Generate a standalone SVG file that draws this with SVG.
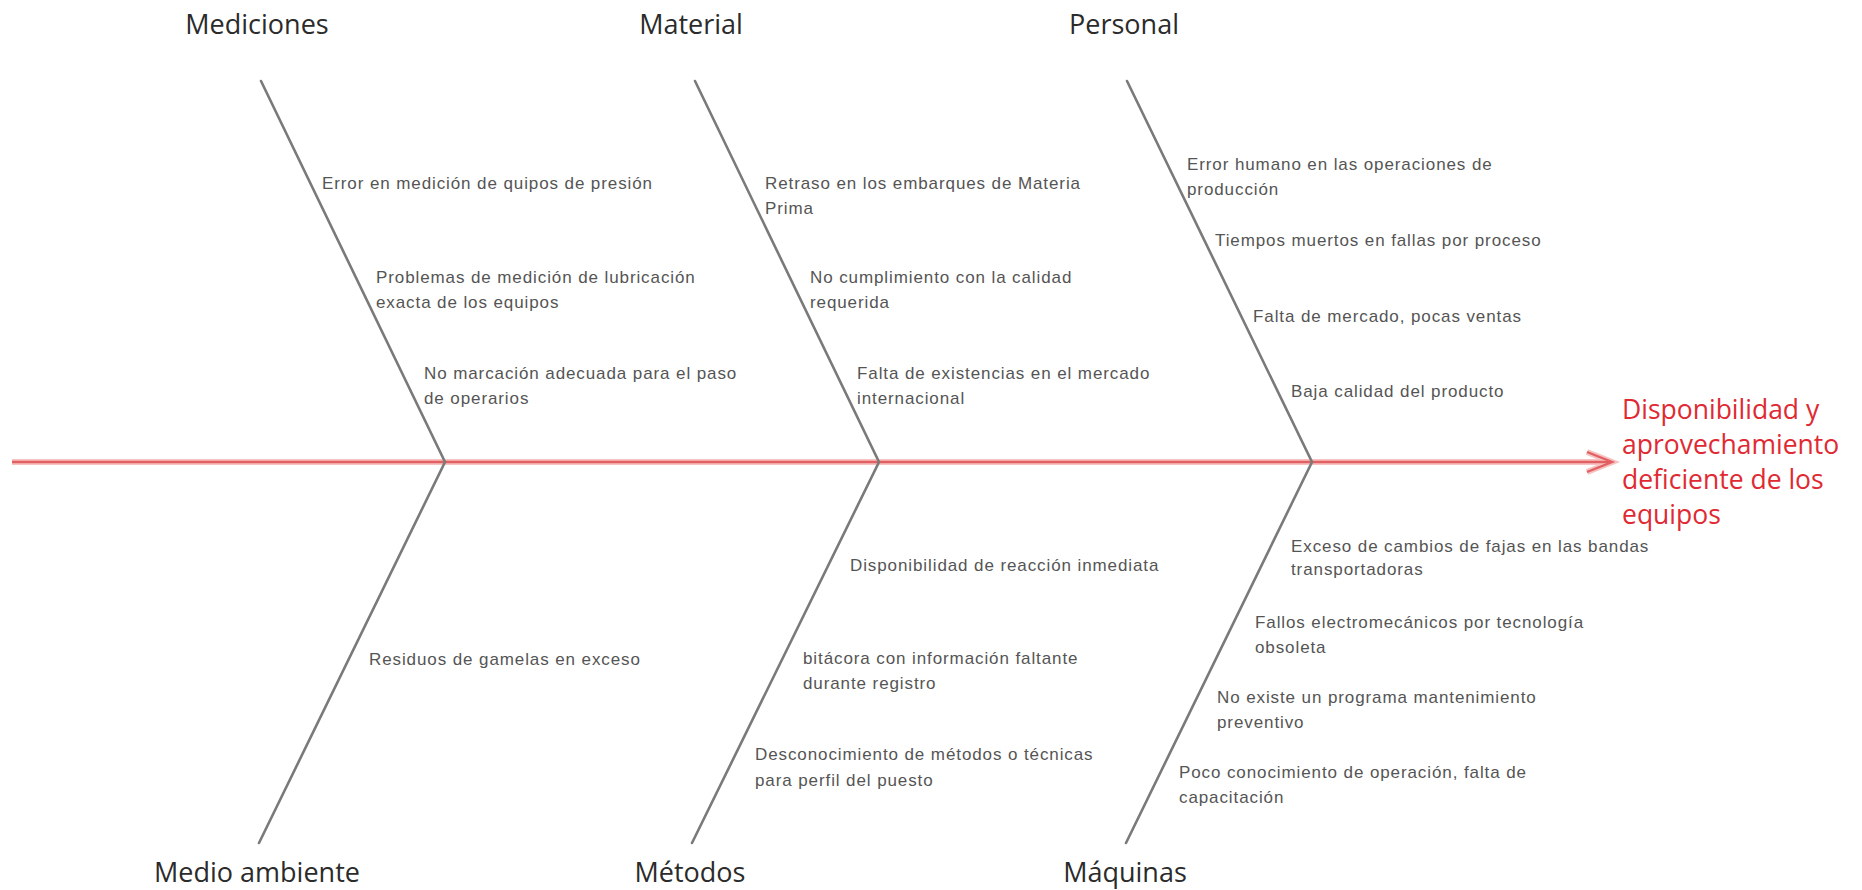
<svg xmlns="http://www.w3.org/2000/svg" width="1862" height="890" viewBox="0 0 1862 890">
<style>
.cat{font-family:"Open Sans","Noto Sans",sans-serif;font-size:27px;fill:#2b2b2b;text-anchor:middle}
.cause{font-family:"Liberation Sans",Arial,sans-serif;font-size:17px;letter-spacing:0.9px;fill:#555555}
.effect{font-family:"Open Sans","Noto Sans",sans-serif;font-size:26.5px;fill:#df2a33}
.bone{stroke:#7a7a7a;stroke-width:2.6;fill:none;stroke-linecap:round;stroke-linejoin:miter}
.halo{stroke:#f6c2c2;stroke-width:6;fill:none}
.spine{stroke:#e25f62;stroke-width:2.4;fill:none}
</style>
<rect width="1862" height="890" fill="#ffffff"/>
<g id="connectors">
  <g id="spine">
    <line class="halo" x1="12" y1="462" x2="1611" y2="462"/>
    <polyline class="halo" points="1587,452 1612,462 1587,472"/>
    <line class="spine" x1="12" y1="462" x2="1611" y2="462"/>
    <polyline class="spine" points="1587,452 1612,462 1587,472"/>
  </g>
  <polyline class="bone" points="261,81 445,462 259,843"/>
  <polyline class="bone" points="695,81 879,462 692,843"/>
  <polyline class="bone" points="1127,81 1312,462 1126,843"/>
</g>
<g id="effect">
  <text class="effect" x="1622" y="419">Disponibilidad y</text>
  <text class="effect" x="1622" y="454">aprovechamiento</text>
  <text class="effect" x="1622" y="489">deficiente de los</text>
  <text class="effect" x="1622" y="524">equipos</text>
</g>
<g id="mediciones">
  <text class="cat" x="257" y="34">Mediciones</text>
  <text class="cause" x="322" y="189">Error en medición de quipos de presión</text>
  <text class="cause" x="376" y="283">Problemas de medición de lubricación</text>
  <text class="cause" x="376" y="308">exacta de los equipos</text>
  <text class="cause" x="424" y="379">No marcación adecuada para el paso</text>
  <text class="cause" x="424" y="404">de operarios</text>
</g>
<g id="material">
  <text class="cat" x="691" y="34">Material</text>
  <text class="cause" x="765" y="189">Retraso en los embarques de Materia</text>
  <text class="cause" x="765" y="214">Prima</text>
  <text class="cause" x="810" y="283">No cumplimiento con la calidad</text>
  <text class="cause" x="810" y="308">requerida</text>
  <text class="cause" x="857" y="379">Falta de existencias en el mercado</text>
  <text class="cause" x="857" y="404">internacional</text>
</g>
<g id="personal">
  <text class="cat" x="1124" y="34">Personal</text>
  <text class="cause" x="1187" y="170">Error humano en las operaciones de</text>
  <text class="cause" x="1187" y="195">producción</text>
  <text class="cause" x="1215" y="246">Tiempos muertos en fallas por proceso</text>
  <text class="cause" x="1253" y="322">Falta de mercado, pocas ventas</text>
  <text class="cause" x="1291" y="397">Baja calidad del producto</text>
</g>
<g id="medio-ambiente">
  <text class="cat" x="257" y="882">Medio ambiente</text>
  <text class="cause" x="369" y="665">Residuos de gamelas en exceso</text>
</g>
<g id="metodos">
  <text class="cat" x="690" y="882">Métodos</text>
  <text class="cause" x="850" y="571">Disponibilidad de reacción inmediata</text>
  <text class="cause" x="803" y="664">bitácora con información faltante</text>
  <text class="cause" x="803" y="689">durante registro</text>
  <text class="cause" x="755" y="760">Desconocimiento de métodos o técnicas</text>
  <text class="cause" x="755" y="786">para perfil del puesto</text>
</g>
<g id="maquinas">
  <text class="cat" x="1125" y="882">Máquinas</text>
  <text class="cause" x="1291" y="552">Exceso de cambios de fajas en las bandas</text>
  <text class="cause" x="1291" y="575">transportadoras</text>
  <text class="cause" x="1255" y="628">Fallos electromecánicos por tecnología</text>
  <text class="cause" x="1255" y="653">obsoleta</text>
  <text class="cause" x="1217" y="703">No existe un programa mantenimiento</text>
  <text class="cause" x="1217" y="728">preventivo</text>
  <text class="cause" x="1179" y="778">Poco conocimiento de operación, falta de</text>
  <text class="cause" x="1179" y="803">capacitación</text>
</g>
</svg>
